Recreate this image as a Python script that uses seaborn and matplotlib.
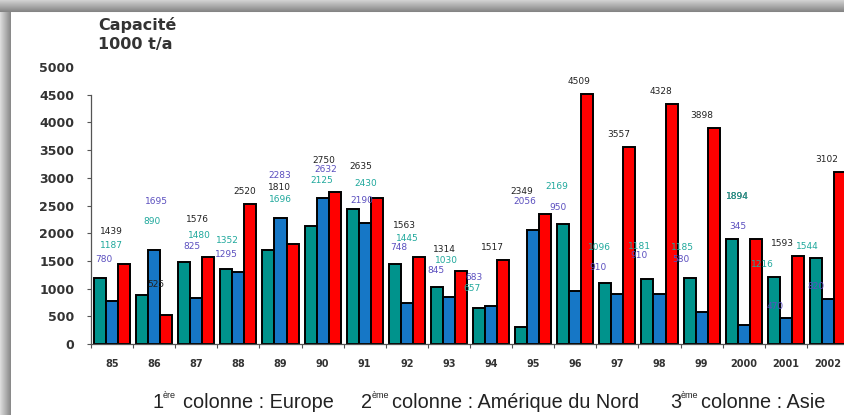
import numpy as np
import pandas as pd
from matplotlib import pyplot as plt
import seaborn as sns

# capacite par region (1000 t/a)
annees = ['85', '86', '87', '88', '89', '90', '91', '92', '93', '94', '95',
          '96', '97', '98', '99', '2000', '2001', '2002']
europe = [1187, 890, 1480, 1352, 1696, 2125, 2430, 1445, 1030, 657, 310,
          2169, 1096, 1181, 1185, 1894, 1216, 1544]
amerique = [780, 1695, 825, 1295, 2283, 2632, 2190, 748, 845, 683, 2056,
            950, 910, 910, 580, 345, 470, 820]
asie = [1439, 525, 1576, 2520, 1810, 2750, 2635, 1563, 1314, 1517, 2349,
        4509, 3557, 4328, 3898, 1894, 1593, 3102]
regions = ['Europe', 'Amérique du Nord', 'Asie']

# position des etiquettes (decalage dans le groupe, hauteur en t/a)
eu_dx = [-0.02, -0.05, 0.07, -0.27, 0.01, -0.01, 0.03, 0.01, -0.07, -0.45, 0,
         -0.43, -0.43, -0.48, -0.46, -0.15, -0.56, -0.49]
eu_ly = [1769, 2208, 1967, 1877, 2617, 2960, 2906, 1913, 1504, 993, None,
         2839, 1733, 1756, 1733, 2659, 1444, 1751]
na_dx = [-0.19, 0.05, -0.1, -0.29, -0.03, 0.08, -0.06, -0.18, -0.3, -0.4, -0.21,
         -0.41, -0.46, -0.48, -0.48, -0.15, -0.25, -0.28]
na_ly = [1534, 2569, 1751, 1624, 3038, 3141, 2599, 1738, 1318, 1209, 2581,
         2455, 1372, 1606, 1534, 2112, 668, 1029]
as_dx = [-0.02, 0.05, 0.02, 0.14, -0.03, 0.04, -0.09, -0.06, -0.11, 0.03, -0.26,
         0.09, 0.04, 0.04, 0.01, -0.15, -0.09, -0.02]
as_ly = [2027, 1065, 2256, 2749, 2821, 3321, 3200, 2130, 1697, 1733, 2749,
         4734, 3790, 4554, 4133, 2659, 1823, 3339]

couleurs = ['#00938c', '#1677c6', '#ff0000']
couleurs_txt = {'as': '#222222', 'eu': '#1fa89c', 'na': '#5b4fbf'}

df = pd.DataFrame({
    'annee': annees * 3,
    'region': np.repeat(regions, len(annees)),
    'capacite': europe + amerique + asie,
})

sns.set_theme(style='white')
plt.rcParams['font.family'] = ['DejaVu Sans']

W, H = 844, 415
fig = plt.figure(figsize=(W / 100, H / 100), dpi=100)

# cadre avec ombre
bg = fig.add_axes([0, 0, 1, 1], zorder=-5)
img = np.ones((H, W))
yy, xx = np.mgrid[0:H, 0:W]
top = yy < 13
left = xx < 11
img[top] = 0.84 - 0.32 * (yy[top] / 12.0)
img[left & ~top] = 0.86 - 0.32 * (xx[left & ~top] / 10.0)
bg.imshow(img, cmap='gray', vmin=0, vmax=1, aspect='auto', interpolation='bilinear')
bg.axis('off')

ax = fig.add_axes([91 / W, (H - 344) / H, 758 / W, 277 / H])
sns.barplot(data=df, x='annee', y='capacite', hue='region', order=annees,
            hue_order=regions, palette=couleurs, width=0.86, gap=0,
            edgecolor='black', linewidth=1.4, saturation=1, legend=False, ax=ax)

ax.set_xlim(-0.5, len(annees) - 0.5)
ax.set_ylim(0, 5000)
ax.set_yticks(range(0, 5001, 500))
ax.set_xlabel('')
ax.set_ylabel('')

for i in range(len(annees)):
    if as_ly[i] is not None:
        ax.text(i + as_dx[i], as_ly[i], str(asie[i]), ha='center', va='center',
                fontsize=6.5, color=couleurs_txt['as'], zorder=5)
    if eu_ly[i] is not None:
        ax.text(i + eu_dx[i], eu_ly[i], str(europe[i]), ha='center', va='center',
                fontsize=6.5, color=couleurs_txt['eu'], zorder=6)
    if na_ly[i] is not None:
        ax.text(i + na_dx[i], na_ly[i], str(amerique[i]), ha='center', va='center',
                fontsize=6.5, color=couleurs_txt['na'], zorder=6)

for s in ['top', 'right']:
    ax.spines[s].set_visible(False)
ax.spines['left'].set_bounds(0, 4500)
for s in ['left', 'bottom']:
    ax.spines[s].set_color('#555555')
    ax.spines[s].set_linewidth(0.9)

ax.tick_params(axis='y', which='major', left=True, length=3, width=0.8,
               color='#555555', pad=9, labelsize=9, labelcolor='#333333')
ax.yaxis.get_major_ticks()[-1].tick1line.set_visible(False)
ax.tick_params(axis='x', which='major', bottom=False, length=0, pad=11,
               labelsize=7, labelcolor='#333333')
ax.set_xticks(np.arange(-0.5, len(annees), 1.0), minor=True)
ax.tick_params(axis='x', which='minor', bottom=True, length=3, width=0.8,
               color='#555555')
for lab in ax.get_xticklabels() + ax.get_yticklabels():
    lab.set_fontweight('bold')

# titre de l'axe
fig.text(98 / W, 1 - 25 / H, 'Capacité', fontsize=11.5, fontweight='bold',
         color='#333333', va='center', ha='left')
fig.text(98 / W, 1 - 45 / H, '1000 t/a', fontsize=11.5, fontweight='bold',
         color='#333333', va='center', ha='left')

# note en bas
note = [(152, '1', 'ère', 'colonne : Europe'),
        (361, '2', 'ème', 'colonne : Amérique du Nord'),
        (670, '3', 'ème', 'colonne : Asie')]
for x0, num, sup, txt in note:
    fig.text(x0 / W, 1 - 408 / H, num, fontsize=14.3, family='Liberation Sans',
             color='#222222', va='baseline', ha='left')
    fig.text((x0 + 11) / W, 1 - 398 / H, sup, fontsize=6.5,
             family='Liberation Sans', color='#222222', va='baseline', ha='left')
    fig.text((x0 + 31) / W, 1 - 408 / H, txt, fontsize=14.3,
             family='Liberation Sans', color='#222222', va='baseline', ha='left')

fig.savefig('out.png', dpi=100)
